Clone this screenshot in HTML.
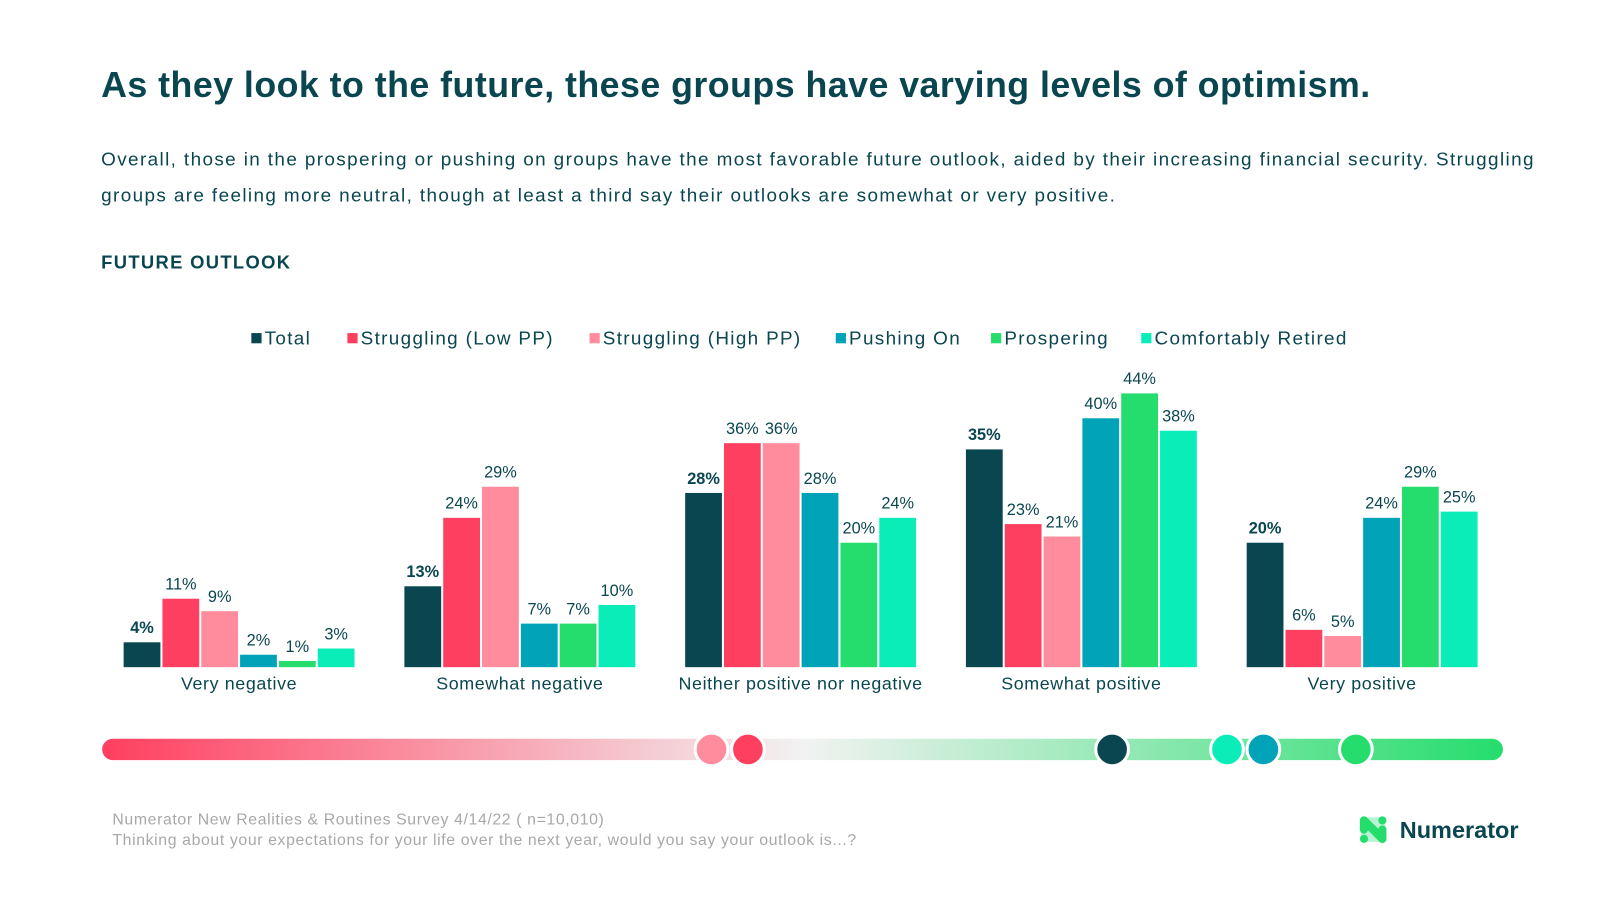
<!DOCTYPE html>
<html><head><meta charset="utf-8"><style>
body{margin:0;width:1600px;height:900px;background:#fff;font-family:"Liberation Sans",sans-serif;color:#0a4650;overflow:hidden;position:relative}
#wrap{position:absolute;left:0;top:0;width:1566px;height:881px;transform:scale(1.0217);transform-origin:0 0}
.abs{position:absolute}
</style></head><body>
<div id="wrap">
<div class="abs" style="left:99px;top:64px;font-size:35px;font-weight:bold;letter-spacing:0.45px;white-space:nowrap">As they look to the future, these groups have varying levels of optimism.</div>
<div class="abs" style="left:99px;top:138px;font-size:18.5px;line-height:35px;letter-spacing:1.35px;white-space:nowrap">Overall, those in the prospering or pushing on groups have the most favorable future outlook, aided by their increasing financial security. Struggling<br>groups are feeling more neutral, though at least a third say their outlooks are somewhat or very positive.</div>
<div class="abs" style="left:99px;top:247px;font-size:18px;font-weight:bold;letter-spacing:1.3px">FUTURE OUTLOOK</div>
<svg class="abs" style="left:0;top:0" width="1566" height="881" id="chart">
<defs><linearGradient id="g" x1="0" x2="1"><stop offset="0" stop-color="#ff3f5f"/><stop offset="0.5" stop-color="#f2f2f2"/><stop offset="1" stop-color="#25dd6c"/></linearGradient></defs>
<rect x="100" y="723" width="1371" height="21" rx="10.5" fill="url(#g)"/>
</svg>
<div class="abs" style="left:110px;top:793px;font-size:15.5px;color:#a8a8a8;line-height:20px;letter-spacing:0.6px">Numerator New Realities &amp; Routines Survey 4/14/22 ( n=10,010)<br>Thinking about your expectations for your life over the next year, would you say your outlook is...?</div>
<div class="abs" style="left:1330px;top:797px;height:30px;display:flex;align-items:center">
<svg width="28" height="28" viewBox="0 0 28 28"><rect x="2" y="2" width="24" height="24" fill="#b9f3d3"/><line x1="5" y1="5" x2="23" y2="23" stroke="#25dd6c" stroke-width="8" stroke-linecap="round"/><line x1="5" y1="5" x2="5" y2="14" stroke="#25dd6c" stroke-width="8" stroke-linecap="round"/><line x1="23" y1="14" x2="23" y2="23" stroke="#25dd6c" stroke-width="8" stroke-linecap="round"/><circle cx="5" cy="23" r="4" fill="#25dd6c"/><circle cx="23" cy="5" r="4" fill="#25dd6c"/></svg>
<span style="font-size:23px;margin-left:12px;color:#0a4650;font-weight:bold">Numerator</span></div>
</div>
<script>
const categories=["Very negative","Somewhat negative","Neither positive nor negative","Somewhat positive","Very positive"];
const seriesNames=["Total","Struggling (Low PP)","Struggling (High PP)","Pushing On","Prospering","Comfortably Retired"];
const seriesColors=["#0a4650","#ff3f5f","#ff8c9c","#00a3b8","#25dd6c","#0bedb9"];
const total=[4,13,28,35,20];
const strugglingLow=[11,24,36,23,6];
const strugglingHigh=[9,29,36,21,5];
const pushingOn=[2,7,28,40,24];
const prospering=[1,7,20,44,29];
const retired=[3,10,24,38,25];
const legendX=[246,340,577,818,970,1117];
const scaleValues=[0.435,0.461,0.721,0.803,0.829,0.895];
const scaleOrder=[2,1,0,5,3,4];
const series=[total,strugglingLow,strugglingHigh,pushingOn,prospering,retired];
const svg=document.getElementById('chart');
const NS='http://www.w3.org/2000/svg';
const base=653,pxPer=6.09;
const yScale=v=>base-v*pxPer;
const xGroup=i=>234+i*274.8;
function mk(t,a){const e=document.createElementNS(NS,t);for(const k in a)e.setAttribute(k,a[k]);svg.appendChild(e);return e;}
categories.forEach((c,i)=>{
  series.forEach((s,j)=>{
    const x=xGroup(i)-113+j*38;
    const r=mk('rect',{x:x,y:yScale(s[i]),width:36,height:base-yScale(s[i]),fill:seriesColors[j]});
    
    
    const t=mk('text',{x:x+18,y:yScale(s[i])-9,'text-anchor':'middle','font-size':16,fill:'#0a4650','font-weight':j==0?'bold':'normal'});
    t.textContent=s[i]+'%';
    
    
  });
  const l=mk('text',{x:xGroup(i),y:675,'text-anchor':'middle','font-size':17.5,fill:'#0a4650','letter-spacing':0.6});
  l.textContent=c;
  
  
});
seriesNames.forEach((n,j)=>{
  const r=mk('rect',{x:legendX[j],y:326,width:10,height:10,fill:seriesColors[j]});
  
  
  const t=mk('text',{x:legendX[j]+13,y:337,'font-size':18.5,fill:'#0a4650','letter-spacing':1.3});
  t.textContent=n;
  
  
});
scaleOrder.forEach((j,k)=>{
  const c=mk('circle',{cx:100+scaleValues[k]*1371,cy:733.5,r:16,fill:seriesColors[j],stroke:'#fff','stroke-width':3});
  
  
});
</script>
</body></html>
